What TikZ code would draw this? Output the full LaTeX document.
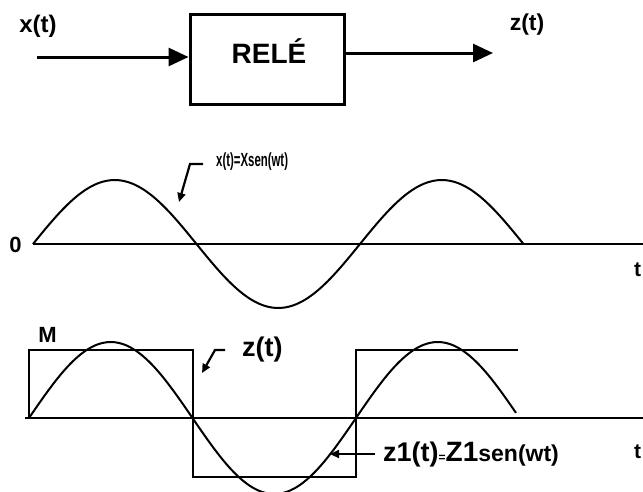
\documentclass[tikz,border=0pt]{standalone}
\usepackage{fontspec}
\setmainfont{Liberation Sans}
\usetikzlibrary{arrows.meta,positioning}

\begin{document}
\begin{tikzpicture}[
  x=1pt,y=-1pt,
  every node/.style={inner sep=0pt,font=\bfseries},
  relebox/.style={draw,line width=3pt,minimum width=154pt,minimum height=90pt},
  sigarr/.style={line width=3pt,-{Triangle[length=20pt,width=18pt]}},
  axisline/.style={line width=2.4pt},
  wave/.style={line width=2pt},
  leader/.style={line width=2.2pt,-{Triangle[length=9pt,width=8pt]}}
]
\useasboundingbox (0,0) rectangle (643,491);

\node[relebox] (rele) at (267,59.5) {};
\node[font=\fontsize{28}{28}\bfseries] (reletxt) at (269,51) {RELÉ};
\node[font=\fontsize{24}{24}\bfseries] (xin) at (38,26) {x(t)};
\node[font=\fontsize{23}{23}\bfseries] (zout) at (527,25) {z(t)};
\coordinate (in) at (37,57);
\coordinate (out) at (493,53);
\draw[sigarr] (in) -- (in -| rele.west);
\draw[sigarr] (out -| rele.east) -- (out);

\node[font=\fontsize{22}{22}\bfseries] (zero) at (15.5,245) {0};
\node[font=\fontsize{21}{21}\bfseries,anchor=west] (t1) at (634,270) {t};
\coordinate (o1) at (33,244);
\coordinate (e1) at (643,244);
\draw[axisline] (o1) -- (e1);
\draw[wave] plot[domain=33:523.5,samples=120,smooth] (\x,{244-64*sin(1.10092*(\x-33))});
\node[font=\fontsize{19}{19}\bfseries,anchor=west] (xlab) at (216,162) {\scalebox{.6}[1]{x(t)=Xsen(wt)}};
\coordinate (l1a) at (203,164);
\coordinate (l1b) at (190,164);
\coordinate (l1c) at (179,202);
\draw[leader] (l1a) -- (l1b) -- (l1c);

\node[font=\fontsize{22}{22}\bfseries] (m) at (47.5,335) {M};
\node[font=\fontsize{21}{21}\bfseries,anchor=west] (t2) at (634,452) {t};
\coordinate (o2) at (25,418);
\coordinate (e2) at (643,418);
\draw[axisline] (o2) -- (e2);
\draw[wave] (29,418) -- (29,350) -- (193,350) -- (193,477) -- (356,477) -- (356,350) -- (518,350);
\draw[wave] plot[domain=29:516,samples=120,smooth] (\x,{418-76*sin(1.10092*(\x-29))});
\node[font=\fontsize{27}{27}\bfseries,anchor=west] (zlab) at (242,350) {z(t)};
\coordinate (l2a) at (225,350);
\coordinate (l2b) at (215,350);
\coordinate (l2c) at (202,373);
\draw[leader] (l2a) -- (l2b) -- (l2c);
\node[anchor=base west] (z1lab) at (383,461)
  {{\fontsize{27}{27}\bfseries z1(t)}{\fontsize{12}{12}\selectfont =}{\fontsize{28}{28}\selectfont Z1}{\fontsize{23}{23}\bfseries sen(wt)}};
\coordinate (l3a) at (375,454);
\coordinate (l3b) at (330,454);
\draw[leader] (l3a) -- (l3b);
\end{tikzpicture}
\end{document}
